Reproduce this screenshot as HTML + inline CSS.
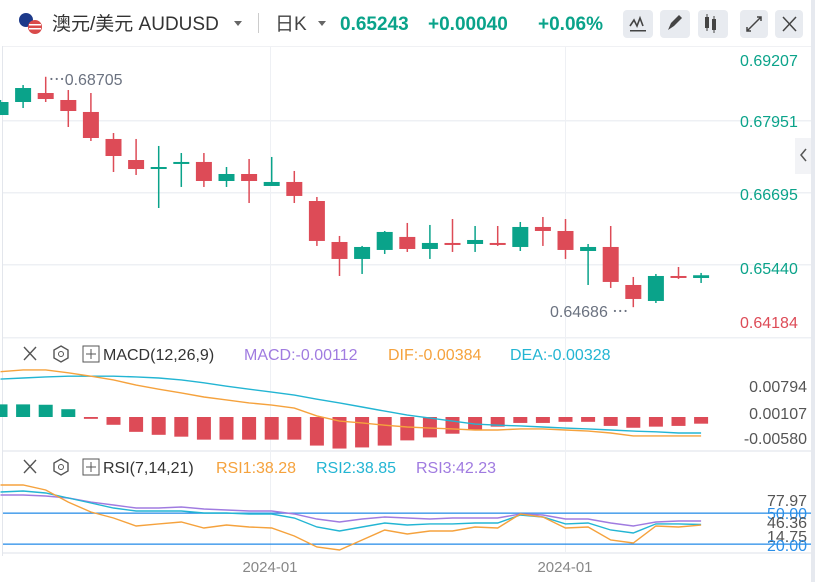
<!DOCTYPE html>
<html><head><meta charset="utf-8">
<style>
body{margin:0;width:815px;height:582px;overflow:hidden;background:#fff;font-family:"Liberation Sans","Noto Sans CJK SC",sans-serif;}
svg{display:block}
</style></head>
<body>
<svg id="c" width="815" height="582" xmlns="http://www.w3.org/2000/svg">
  <rect x="0" y="0" width="815" height="582" fill="#fff"/>
  <rect x="811" y="0" width="4" height="582" fill="#e6e9ef"/>
  <g>
    <g>
      <circle cx="26" cy="20" r="7" fill="#1d3a8a"/>
      <circle cx="35" cy="27" r="7" fill="#d94a4a"/>
      <rect x="29" y="24" width="12" height="1.5" fill="#fff"/><rect x="29" y="28" width="12" height="1.5" fill="#fff"/>
    </g>
    <text x="52" y="30" font-size="19" fill="#333">澳元/美元 AUDUSD</text>
    <path d="M234 21l4 5 4-5z" fill="#666"/>
    <rect x="258" y="13" width="1" height="20" fill="#ccc"/>
    <text x="275" y="30" font-size="19" fill="#444">日K</text>
    <path d="M318 21l4 5 4-5z" fill="#666"/>
    <text x="340" y="30" font-size="19" font-weight="bold" fill="#0aa38a">0.65243</text>
    <text x="428" y="30" font-size="19" font-weight="bold" fill="#0aa38a">+0.00040</text>
    <text x="538" y="30" font-size="19" font-weight="bold" fill="#0aa38a">+0.06%</text>
    <rect x="623" y="10" width="30" height="28" rx="4" fill="#e8ebf0"/>
    <path d="M630 26l4-6 3 6 3-8 3 8" stroke="#444" stroke-width="1.6" fill="none"/><rect x="630" y="30" width="16" height="1.5" fill="#444"/>
    <rect x="660" y="10" width="30" height="28" rx="4" fill="#e8ebf0"/>
    <path d="M668 30l3-7 8-8 3 3-8 8z" fill="#444"/>
    <rect x="698" y="10" width="30" height="28" rx="4" fill="#e8ebf0"/>
    <rect x="705" y="17" width="4" height="11" fill="#444"/><rect x="712" y="19" width="4" height="11" fill="#444"/><rect x="706.5" y="14" width="1" height="17" fill="#444"/><rect x="713.5" y="16" width="1" height="17" fill="#444"/>
    <rect x="740" y="10" width="28" height="28" rx="4" fill="#e8ebf0"/>
    <path d="M747 31l14-14M757 17h4v4M747 27v4h4" stroke="#444" stroke-width="1.5" fill="none"/>
    <rect x="775" y="10" width="28" height="28" rx="4" fill="#e8ebf0"/>
    <path d="M783 17l13 14M796 17l-13 14" stroke="#444" stroke-width="1.5"/>
  </g>
  <rect x="2" y="46" width="1" height="510" fill="#e3e6ec"/>
  <rect x="3" y="46" width="808" height="1" fill="#f0f1f4"/>
  <g id="grid"></g>
  <g id="candles"></g>
  <g id="macd"></g>
  <g id="rsi"></g>
  <g id="axes"></g>
  <g><rect x="795" y="138" width="16" height="36" fill="#f2f3f6"/><path d="M806 149l-5 6 5 6" stroke="#555" stroke-width="1.5" fill="none"/></g>
  <g font-size="16">
    <path d="M24 347l12 13M36 347l-12 13" stroke="#555" stroke-width="1.4"/>
    <path d="M61 346l7 4v8l-7 4-7-4v-8z" stroke="#555" stroke-width="1.4" fill="none"/><circle cx="61" cy="354" r="2.5" stroke="#555" fill="none"/>
    <rect x="83" y="346" width="16" height="16" stroke="#555" fill="none"/><path d="M86 354h10M91 349v10" stroke="#555"/>
    <text x="103" y="360" fill="#333">MACD(12,26,9)</text>
    <text x="244" y="360" fill="#a07be0">MACD:-0.00112</text>
    <text x="388" y="360" fill="#f5a23d">DIF:-0.00384</text>
    <text x="510" y="360" fill="#23b5d3">DEA:-0.00328</text>
  </g>
  <g font-size="16">
    <path d="M24 460l12 13M36 460l-12 13" stroke="#555" stroke-width="1.4"/>
    <path d="M61 459l7 4v8l-7 4-7-4v-8z" stroke="#555" stroke-width="1.4" fill="none"/><circle cx="61" cy="467" r="2.5" stroke="#555" fill="none"/>
    <rect x="83" y="459" width="16" height="16" stroke="#555" fill="none"/><path d="M86 467h10M91 462v10" stroke="#555"/>
    <text x="103" y="473" fill="#333">RSI(7,14,21)</text>
    <text x="216" y="473" fill="#f5a23d">RSI1:38.28</text>
    <text x="316" y="473" fill="#23b5d3">RSI2:38.85</text>
    <text x="416" y="473" fill="#a07be0">RSI3:42.23</text>
  </g>
</svg>
<script>
const opens=[0.68038,0.68265,0.68422,0.68300,0.68091,0.67620,0.67253,0.67096,0.67184,0.67219,0.66887,0.67009,0.66800,0.66870,0.66538,0.65823,0.65527,0.65684,0.65911,0.65701,0.65806,0.65788,0.65806,0.65736,0.66085,0.66015,0.65666,0.65736,0.65073,0.64794,0.65230,0.65195];
const highs=[0.68300,0.68561,0.68705,0.68474,0.68422,0.67724,0.67620,0.67498,0.67375,0.67375,0.67131,0.67271,0.67306,0.67062,0.66608,0.65928,0.65754,0.66015,0.66155,0.66120,0.66224,0.66102,0.66102,0.66172,0.66259,0.66224,0.65788,0.66102,0.65213,0.65265,0.65387,0.65283];
const lows=[0.68038,0.68160,0.68265,0.67829,0.67585,0.67044,0.66992,0.66416,0.66783,0.66783,0.66783,0.66503,0.66800,0.66503,0.65754,0.65230,0.65265,0.65614,0.65649,0.65527,0.65649,0.65649,0.65754,0.65666,0.65754,0.65527,0.65073,0.65021,0.64686,0.64759,0.65178,0.65108];
const closes=[0.68265,0.68509,0.68317,0.68108,0.67637,0.67323,0.67096,0.67131,0.67219,0.66887,0.67009,0.66887,0.66870,0.66626,0.65841,0.65527,0.65736,0.65998,0.65701,0.65806,0.65771,0.65858,0.65788,0.66085,0.66015,0.65684,0.65736,0.65126,0.64829,0.65230,0.65213,0.65243];
const macdHist=[0.0034,0.0034,0.0033,0.0021,-0.0005,-0.0021,-0.0040,-0.0048,-0.0053,-0.0061,-0.0061,-0.0061,-0.0061,-0.0061,-0.0077,-0.0085,-0.0082,-0.0077,-0.0063,-0.0055,-0.0045,-0.0034,-0.0026,-0.0016,-0.0016,-0.0013,-0.0013,-0.0024,-0.0029,-0.0026,-0.0024,-0.0018];
const difVals=[0.0122,0.0127,0.0127,0.0119,0.0110,0.0100,0.0086,0.0075,0.0065,0.0054,0.0046,0.0038,0.0032,0.0024,0.0003,-0.0011,-0.0016,-0.0022,-0.0027,-0.0030,-0.0032,-0.0035,-0.0035,-0.0032,-0.0032,-0.0035,-0.0038,-0.0043,-0.0051,-0.0051,-0.0051,-0.0051];
const deaVals=[0.0102,0.0105,0.0108,0.0110,0.0110,0.0110,0.0108,0.0105,0.0100,0.0092,0.0083,0.0075,0.0067,0.0059,0.0048,0.0038,0.0027,0.0016,0.0005,-0.0003,-0.0011,-0.0019,-0.0022,-0.0024,-0.0027,-0.0030,-0.0032,-0.0035,-0.0038,-0.0040,-0.0043,-0.0043];
const rsi1=[77.1,77.1,72.3,60.6,51.0,45.2,37.4,39.4,41.3,35.5,38.4,36.4,35.5,27.7,17.1,14.2,23.9,33.5,29.7,32.6,32.6,36.4,35.5,49.0,46.1,35.5,36.4,23.9,21.0,37.4,36.4,38.3];
const rsi2=[70.3,71.3,69.4,64.5,59.7,54.8,51.9,51.9,51.9,50.0,50.0,49.0,49.0,45.2,36.4,32.6,36.4,40.3,38.4,39.4,39.4,40.3,40.3,48.1,46.1,39.4,40.3,33.5,30.6,39.4,39.4,38.9];
const rsi3=[67.4,67.4,66.5,64.5,60.6,57.7,54.8,54.8,55.8,53.9,52.9,51.9,51.9,49.0,44.2,41.3,44.2,46.1,45.2,44.2,45.2,45.2,45.2,49.0,48.1,44.2,44.2,40.3,37.4,41.3,42.3,42.3];
const priceTicks=["0.69207","0.67951","0.66695","0.65440","0.64184"];
const macdTicks=["0.00794","0.00107","-0.00580"];
const xTickLabels=["2024-01","2024-01"];

const NS="http://www.w3.org/2000/svg";
function mk(parent,tag,attrs){const e=document.createElementNS(NS,tag);for(const k in attrs)e.setAttribute(k,attrs[k]);parent.appendChild(e);return e;}
const xOf=i=>0.5+22.6*i;
const yPrice=v=>120+(0.67951-v)/0.01256*72;
const yMacd=v=>417-v*3712;
const yRsi=v=>513+(50-v)*1.033;
const G="#0aa38a",R="#dd4b57";

const grid=document.getElementById('grid');
[120,192,264,337].forEach(y=>{const l=mk(grid,'rect',{x:3,y:y,width:808,height:1.5,fill:'#eef0f4'});

});
[270,565].forEach(x=>{const l=mk(grid,'rect',{x:x,y:47,width:1,height:505,fill:'#eef0f4'});

});
const sep1=mk(grid,'rect',{x:3,y:450,width:808,height:2,fill:'#eef0f4'});


const sep2=mk(grid,'rect',{x:3,y:552,width:808,height:2,fill:'#eef0f4'});



const cg=document.getElementById('candles');
for(let i=0;i<opens.length;i++){
  const up=closes[i]>=opens[i],col=up?G:R,x=xOf(i);
  const g=mk(cg,'g',{});
  
  
  mk(g,'rect',{x:x-0.75,y:yPrice(highs[i]),width:1.5,height:Math.max(1,yPrice(lows[i])-yPrice(highs[i])),fill:col});
  const t=yPrice(Math.max(opens[i],closes[i])),b=yPrice(Math.min(opens[i],closes[i]));
  mk(g,'rect',{x:x-8,y:t,width:16,height:Math.max(2,b-t),fill:col});
}
const hiI=highs.indexOf(Math.max(...highs)),loI=lows.indexOf(Math.min(...lows));
const hl=mk(cg,'text',{x:xOf(hiI)+3,y:yPrice(highs[hiI])+8,'font-size':16,fill:'#6b7280'});
hl.textContent='⋯0.68705';


const ll=mk(cg,'text',{x:xOf(loI)-5,y:yPrice(lows[loI])+10,'font-size':16,fill:'#6b7280','text-anchor':'end'});
ll.textContent='0.64686 ⋯';



const mg=document.getElementById('macd');
macdHist.forEach((v,i)=>{const y0=yMacd(0),y=yMacd(v);
 const r=mk(mg,'rect',{x:xOf(i)-7,y:Math.min(y0,y),width:14,height:Math.max(1.5,Math.abs(y-y0)),fill:v>=0?G:R});
 
 });
function line(parent,vals,yf,col,name){const p=mk(parent,'polyline',{points:vals.map((v,i)=>xOf(i)+','+yf(v).toFixed(1)).join(' '),fill:'none',stroke:col,'stroke-width':1.4});
 
 
 return p;}
line(mg,deaVals,yMacd,'#23b5d3','dea-line');
line(mg,difVals,yMacd,'#f5a23d','dif-line');

const rg=document.getElementById('rsi');
const l50=mk(rg,'rect',{x:3,y:yRsi(50)-0.5,width:808,height:1.3,fill:'#2b8fe8'});


const l20=mk(rg,'rect',{x:3,y:yRsi(20)-0.5,width:808,height:1.3,fill:'#2b8fe8'});


line(rg,rsi3,yRsi,'#a07be0','rsi3-line');
line(rg,rsi2,yRsi,'#23b5d3','rsi2-line');
line(rg,rsi1,yRsi,'#f5a23d','rsi1-line');

const ax=document.getElementById('axes');
const pty=[66,127,200,274,328];
priceTicks.forEach((t,i)=>{const e=mk(ax,'text',{x:740,y:pty[i],'font-size':16,fill:i==4?'#dd4b57':'#0aa38a'});e.textContent=t;
 
 });
const mty=[392,419,444];
macdTicks.forEach((t,i)=>{const e=mk(ax,'text',{x:807,y:mty[i],'font-size':16,fill:'#555','text-anchor':'end'});e.textContent=t;
 
 });
[["77.97",506,'#555'],["50.00",519,'#2b8fe8'],["46.36",528,'#555'],["14.75",542,'#555'],["20.00",551,'#2b8fe8']].forEach(a=>{const e=mk(ax,'text',{x:807,y:a[1],'font-size':16,fill:a[2],'text-anchor':'end'});e.textContent=a[0];
 
 });
[270,565].forEach((x,i)=>{const e=mk(ax,'text',{x:x,y:572,'font-size':15,fill:'#888','text-anchor':'middle'});e.textContent=xTickLabels[i];
 
 });
</script>
</body></html>
